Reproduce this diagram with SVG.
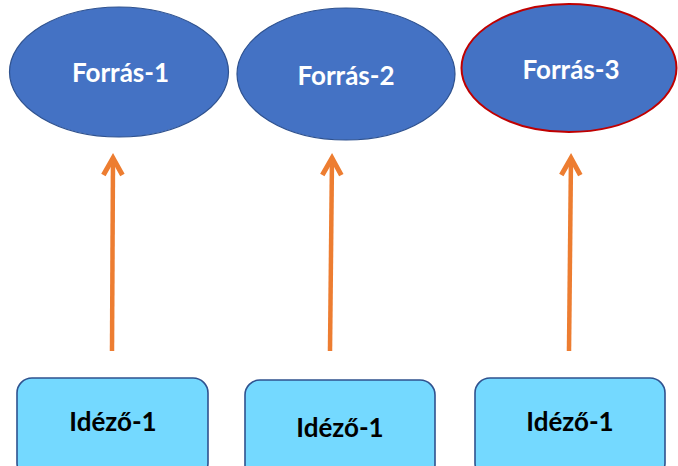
<svg xmlns="http://www.w3.org/2000/svg" width="678" height="466" viewBox="0 0 678 466">
  <style>
    .src { fill: #4472C4; stroke: #2F528F; stroke-width: 1.2; }
    .src.red { stroke: #C00000; stroke-width: 2; }
    .cit { fill: #74D9FF; stroke: #2F528F; stroke-width: 1.6; }
    .lbl-w { font-family: Lato, "Open Sans", sans-serif; font-weight: bold; font-size: 26px; fill: #FFFFFF; text-anchor: middle; }
    .lbl-b { font-family: Lato, "Open Sans", sans-serif; font-weight: bold; font-size: 26px; fill: #000000; text-anchor: middle; }
    .conn { stroke: #ED7D31; stroke-width: 4.5; fill: none; }
  </style>
  <defs>
    <marker id="chev" markerUnits="userSpaceOnUse" viewBox="-24 -14 30 28" markerWidth="30" markerHeight="28" refX="0" refY="0" orient="auto" overflow="visible">
      <path d="M-17,-9.5 L0,0 L-17,9.5" fill="none" stroke="#ED7D31" stroke-width="5" stroke-linejoin="miter" stroke-linecap="butt"/>
    </marker>
  </defs>
  <rect width="678" height="466" fill="#FFFFFF"/>
  <g id="forras-1">
    <ellipse class="src" cx="119" cy="72" rx="109.5" ry="65"/>
    <text class="lbl-w" x="120.5" y="82">Forrás-1</text>
  </g>
  <g id="forras-2">
    <ellipse class="src" cx="346" cy="74" rx="109" ry="66"/>
    <text class="lbl-w" x="346" y="85">Forrás-2</text>
  </g>
  <g id="forras-3">
    <ellipse class="src red" cx="569" cy="68" rx="107.5" ry="64"/>
    <text class="lbl-w" x="571" y="79">Forrás-3</text>
  </g>
  <g id="idezo-1a">
    <rect class="cit" x="17" y="378" width="191" height="100" rx="15" ry="15"/>
    <text class="lbl-b" x="113" y="431">Idéző-1</text>
  </g>
  <g id="idezo-1b">
    <rect class="cit" x="245" y="380" width="190" height="100" rx="15" ry="15"/>
    <text class="lbl-b" x="340" y="437">Idéző-1</text>
  </g>
  <g id="idezo-1c">
    <rect class="cit" x="475" y="378" width="190" height="100" rx="15" ry="15"/>
    <text class="lbl-b" x="570" y="431">Idéző-1</text>
  </g>
  <g id="connectors">
    <line class="conn" x1="112" y1="351" x2="113" y2="158" marker-end="url(#chev)"/>
    <line class="conn" x1="330" y1="351" x2="332" y2="158" marker-end="url(#chev)"/>
    <line class="conn" x1="569" y1="351" x2="571" y2="158" marker-end="url(#chev)"/>
  </g>
</svg>
